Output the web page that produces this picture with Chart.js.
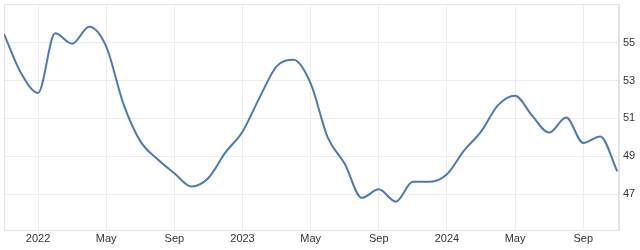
<!DOCTYPE html>
<html>
<head>
<meta charset="utf-8">
<script src="https://cdn.jsdelivr.net/npm/chart.js@4"></script>
<style>
  body { margin: 0; background: #fff; }
  #wrap { width: 640px; height: 250px; }
</style>
</head>
<body>
<div id="wrap"><canvas id="lineChart"></canvas></div>
<script>
// monthly readings, Nov 2021 .. Nov 2024
const months = ['2021-11', '2021-12', '2022-01', '2022-02', '2022-03', '2022-04', '2022-05', '2022-06',
    '2022-07', '2022-08', '2022-09', '2022-10', '2022-11', '2022-12', '2023-01', '2023-02', '2023-03',
    '2023-04', '2023-05', '2023-06', '2023-07', '2023-08', '2023-09', '2023-10', '2023-11', '2023-12',
    '2024-01', '2024-02', '2024-03', '2024-04', '2024-05', '2024-06', '2024-07', '2024-08', '2024-09',
    '2024-10', '2024-11'];
const values = [55.46, 53.4, 52.35, 55.5, 54.95, 55.85, 54.8, 51.8,
    49.8, 48.85, 48.1, 47.4, 47.85, 49.2, 50.3, 52.1, 53.75,
    54.1, 52.85, 50.0, 48.6, 46.8, 47.25, 46.6, 47.65, 47.65,
    48.05, 49.3, 50.3, 51.7, 52.2, 51.15, 50.25, 51.05, 49.7,
    50.05, 48.2];

// axis ticks (x in months since Jan 2022)
const xTicks = [0, 4, 8, 12, 16, 20, 24, 28, 32];
const xTickLabels = ['2022', 'May', 'Sep', '2023', 'May', 'Sep', '2024', 'May', 'Sep'];
const yTicks = [47, 49, 51, 53, 55];

// month string -> months since Jan 2022
function monthPos(m) {
    const [yr, mo] = m.split('-').map(Number);
    return (yr - 2022) * 12 + (mo - 1);
}

const points = months.map((m, i) => ({ x: monthPos(m), y: values[i] }));

const gridColor = '#ececec';

// light frame round the plot area
const frame = {
    id: 'frame',
    beforeDatasetsDraw(chart) {
        const { ctx, chartArea: a } = chart;
        ctx.save();
        ctx.strokeStyle = '#e3e3e3';
        ctx.lineWidth = 1;
        ctx.strokeRect(a.left + 0.5, a.top + 0.5, a.right - a.left - 1, a.bottom - a.top);
        ctx.restore();
    }
};

const ctx = document.getElementById('lineChart').getContext('2d');
const lineChart = new Chart(ctx, {
    type: 'line',
    data: {
        datasets: [{
            data: points,
            borderColor: '#4a7bb7',
            borderWidth: 2,
            pointRadius: 0,
            fill: false,
            cubicInterpolationMode: 'monotone'
        }]
    },
    options: {
        responsive: true,
        maintainAspectRatio: false,
        animation: false,
        layout: { padding: { left: 4, top: 4, right: 0, bottom: 0 } },
        plugins: {
            legend: { display: false },
            tooltip: { enabled: false }
        },
        scales: {
            x: {
                type: 'linear',
                min: -2,
                max: 34.1,
                afterBuildTicks: s => { s.ticks = xTicks.map(v => ({ value: v })); },
                afterFit: s => { s.height = 20; s.paddingLeft = 0; s.paddingRight = 0; },
                grid: { color: gridColor, drawTicks: false },
                border: { color: '#e3e3e3' },
                ticks: {
                    padding: 2,
                    maxRotation: 0,
                    autoSkip: false,
                    color: '#333',
                    font: { family: 'Liberation Sans', size: 11 },
                    callback: v => xTickLabels[xTicks.indexOf(v)]
                }
            },
            y: {
                position: 'right',
                min: 45.1,
                max: 57.05,
                afterBuildTicks: s => { s.ticks = yTicks.map(v => ({ value: v })); },
                afterFit: s => { s.width = 21; s.paddingTop = 0; s.paddingBottom = 0; },
                grid: { color: gridColor, drawTicks: false },
                border: { color: '#e3e3e3' },
                ticks: {
                    padding: 4,
                    color: '#333',
                    font: { family: 'Liberation Sans', size: 11 }
                }
            }
        }
    },
    plugins: [frame]
});
</script>
</body>
</html>
